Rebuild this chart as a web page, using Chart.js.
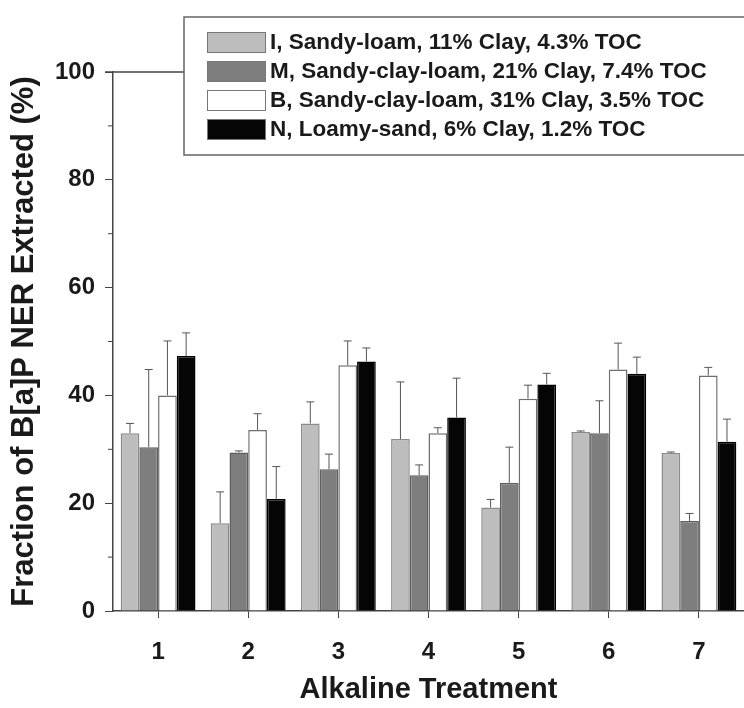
<!DOCTYPE html>
<html>
<head>
<meta charset="utf-8">
<script src="https://cdn.jsdelivr.net/npm/chart.js@4/dist/chart.umd.min.js"></script>
<style>
  html, body { margin: 0; padding: 0; background: #fff; overflow: hidden; }
</style>
</head>
<body>
<canvas id="myChart" width="744" height="708"></canvas>
<script>
const treatments = ['1', '2', '3', '4', '5', '6', '7']
const soilNames = [
  'I, Sandy-loam, 11% Clay, 4.3% TOC',
  'M, Sandy-clay-loam, 21% Clay, 7.4% TOC',
  'B, Sandy-clay-loam, 31% Clay, 3.5% TOC',
  'N, Loamy-sand, 6% Clay, 1.2% TOC'
]
const soilI = [33.0, 16.3, 34.8, 31.9, 19.2, 33.2, 29.3]
const soilM = [30.4, 29.4, 26.3, 25.2, 23.8, 33.0, 16.7]
const soilB = [40.0, 33.6, 45.6, 33.0, 39.4, 44.8, 43.7]
const soilN = [47.3, 20.8, 46.3, 35.9, 42.0, 44.0, 31.4]
// upper error only (one sided)
const errI = [1.8, 5.8, 4.0, 10.6, 1.5, 0.2, 0.2]
const errM = [14.4, 0.3, 2.8, 1.9, 6.6, 6.0, 1.4]
const errB = [10.1, 3.0, 4.5, 1.0, 2.5, 4.9, 1.5]
const errN = [4.3, 6.0, 2.5, 7.3, 2.1, 3.1, 4.2]
const yTicks = [0, 20, 40, 60, 80, 100]

const fills = ['#bdbdbd', '#7e7e7e', '#ffffff', '#050505']
const borders = ['#8a8a8a', '#5e5e5e', '#6e6e6e', '#000000']
const font = "'Liberation Sans', Arial, sans-serif"

const makeSet = function (i, values, errs) {
  return {
    label: soilNames[i],
    data: values,
    errs: errs,
    backgroundColor: fills[i],
    borderColor: borders[i],
    borderWidth: 1.5,
    categoryPercentage: 0.83,
    barPercentage: 1.0
  }
}

// one sided error bars, drawn from the y scale
const errorBars = {
  id: 'errorBars',
  afterDatasetsDraw(chart) {
    const ctx = chart.ctx
    const y = chart.scales.y
    ctx.save()
    ctx.strokeStyle = '#555'
    ctx.lineWidth = 1
    chart.data.datasets.forEach((ds, i) => {
      const meta = chart.getDatasetMeta(i)
      meta.data.forEach((bar, j) => {
        const y0 = y.getPixelForValue(ds.data[j])
        const y1 = y.getPixelForValue(ds.data[j] + ds.errs[j])
        ctx.beginPath()
        ctx.moveTo(bar.x, y0)
        ctx.lineTo(bar.x, y1)
        ctx.moveTo(bar.x - 4, y1)
        ctx.lineTo(bar.x + 4, y1)
        ctx.stroke()
      })
    })
    // top frame line
    const area = chart.chartArea
    ctx.strokeStyle = '#444'
    ctx.lineWidth = 1.5
    ctx.beginPath()
    ctx.moveTo(area.left - 8, area.top)
    ctx.lineTo(area.right, area.top)
    ctx.stroke()
    // minor ticks on y
    ctx.lineWidth = 1
    for (let v = 10; v < 100; v += 20) {
      const py = y.getPixelForValue(v)
      ctx.beginPath()
      ctx.moveTo(area.left - 5, py)
      ctx.lineTo(area.left, py)
      ctx.stroke()
    }
    ctx.restore()
  }
}

// boxed legend over the top right
const boxLegend = {
  id: 'boxLegend',
  afterDraw(chart) {
    const ctx = chart.ctx
    ctx.save()
    ctx.fillStyle = '#fff'
    ctx.fillRect(184, 17, 600, 138)
    ctx.strokeStyle = '#666'
    ctx.lineWidth = 1.5
    ctx.strokeRect(184, 17, 600, 138)
    ctx.font = 'bold 22.5px ' + font
    ctx.textBaseline = 'middle'
    chart.data.datasets.forEach((ds, i) => {
      const cy = 42 + i * 29
      ctx.fillStyle = ds.backgroundColor
      ctx.fillRect(207, cy - 10, 59, 21)
      ctx.strokeStyle = '#777'
      ctx.lineWidth = 1
      ctx.strokeRect(207.5, cy - 9.5, 58, 20)
      ctx.fillStyle = '#1a1a1a'
      ctx.fillText(ds.label, 270, cy + 1)
    })
    ctx.restore()
  }
}

const ctx = document.getElementById('myChart').getContext('2d')
const chart = new Chart(ctx, {
  type: 'bar',
  data: {
    labels: treatments,
    datasets: [
      makeSet(0, soilI, errI),
      makeSet(1, soilM, errM),
      makeSet(2, soilB, errB),
      makeSet(3, soilN, errN)
    ]
  },
  options: {
    responsive: false,
    devicePixelRatio: 1,
    animation: false,
    layout: { padding: { top: 72, right: 0, left: 0, bottom: 0 } },
    plugins: {
      legend: { display: false },
      tooltip: { enabled: false }
    },
    scales: {
      x: {
        grid: { offset: false, drawOnChartArea: false, tickLength: 7, color: '#444', lineWidth: 1 },
        border: { color: '#444', width: 1.5 },
        ticks: { color: '#1a1a1a', padding: 20, font: { family: font, size: 24, weight: 'bold' } },
        title: {
          display: true,
          text: 'Alkaline Treatment',
          color: '#1a1a1a',
          font: { family: font, size: 29, weight: 'bold' },
          padding: { top: 0, bottom: 1 }
        },
        afterFit(scale) { scale.height = 97 }
      },
      y: {
        min: 0,
        max: 100,
        grid: { drawOnChartArea: false, tickLength: 8, color: '#444', lineWidth: 1 },
        border: { color: '#444', width: 1.5 },
        ticks: {
          stepSize: 20,
          padding: 10,
          color: '#1a1a1a',
          font: { family: font, size: 24, weight: 'bold' },
          callback: (v) => yTicks.includes(v) ? v : ''
        },
        title: {
          display: true,
          text: 'Fraction of B[a]P NER Extracted (%)',
          color: '#1a1a1a',
          font: { family: font, size: 31, weight: 'bold' },
          padding: { top: 6, bottom: 0 }
        },
        afterFit(scale) { scale.width = 113 }
      }
    }
  },
  plugins: [errorBars, boxLegend]
})
</script>
</body>
</html>
